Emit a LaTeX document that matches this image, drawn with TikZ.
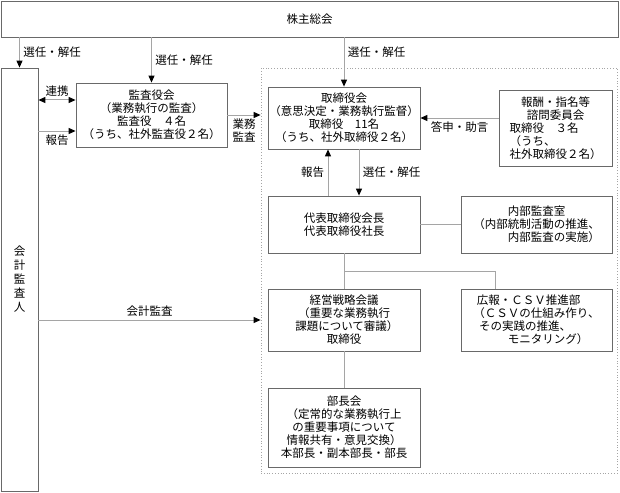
\documentclass[tikz,border=0pt]{standalone}
\usepackage{fontspec}
\setmainfont{Noto Sans CJK JP}
\usetikzlibrary{arrows.meta}
\definecolor{boxgray}{RGB}{105,105,105}
\definecolor{linegray}{RGB}{165,165,165}

\begin{document}
\begin{tikzpicture}[x=1pt,y=-1pt,font=\fontsize{11.5}{13}\selectfont,
    arr/.style={draw=linegray,line width=1pt,-{Triangle[length=7pt,width=6pt,color=black]}},
    biarr/.style={draw=linegray,line width=1pt,{Triangle[length=7pt,width=6pt,color=black]}-{Triangle[length=7pt,width=6pt,color=black]}},
    link/.style={draw=linegray,line width=1pt}]

      \useasboundingbox (0,0) rectangle (620,492);

      \begin{scope}[every node/.style={draw=boxgray,line width=0.8pt,align=center,inner sep=1pt}]
        \node[minimum width=617pt,minimum height=36pt] (soukai) at (309.5,19) {株主総会};
        \node[minimum width=37pt,minimum height=423pt,font=\fontsize{11.5}{14}\selectfont] (kaikei) at (19.5,279.5) {会\\計\\監\\査\\人};
        \node[minimum width=151pt,minimum height=64pt] (kansa) at (151.5,115) {監査役会\\（業務執行の監査）\\監査役　４名\\（うち、社外監査役２名）};
        \node[draw=linegray,dotted,minimum width=356pt,minimum height=405pt] (shikkou) at (439,270.5) {};
        \node[minimum width=152pt,minimum height=62pt] (torishimari) at (344,118) {取締役会\\（意思決定・業務執行監督）\\取締役　11名\\（うち、社外取締役２名）};
        \node[minimum width=113pt,minimum height=76pt,align=left] (houshu) at (555.5,128) {\hspace*{1em}報酬・指名等\\\hspace*{1.5em}諮問委員会\\取締役　３名\\（うち、\\社外取締役２名）};
        \node[minimum width=152pt,minimum height=57pt] (daihyo) at (344,224.5) {代表取締役会長\\代表取締役社長};
        \node[minimum width=151pt,minimum height=57pt,align=left] (naibu) at (536.5,224.5) {\hspace*{3em}内部監査室\\（内部統制活動の推進、\\\hspace*{3em}内部監査の実施）};
        \node[minimum width=152pt,minimum height=62pt] (keiei) at (344,320) {経営戦略会議\\（重要な業務執行\\\hspace*{0.5em}課題について審議）\\取締役};
        \node[minimum width=151pt,minimum height=62pt,align=left] (kouhou) at (536.5,320) {\hspace*{0.3em}広報・ＣＳＶ推進部\\（ＣＳＶの仕組み作り、\\\hspace*{0.5em}その実践の推進、\\\hspace*{3em}モニタリング）};
        \node[minimum width=152pt,minimum height=79pt] (buchou) at (344,427.5) {部長会\\（定常的な業務執行上\\の重要事項について\\情報共有・意見交換）\\本部長・副本部長・部長};
      \end{scope}

      \coordinate (renkei) at ([yshift=15pt]kansa.west);
      \coordinate (houkoku) at ([yshift=-16pt]kansa.west);
      \coordinate (bunki) at (495,271);

      \draw[arr] (soukai.south -| kaikei.north) -- node[right] {選任・解任} (kaikei.north);
      \draw[arr] (soukai.south -| kansa.north) -- node[right] {選任・解任} (kansa.north);
      \draw[arr] (soukai.south -| torishimari.north) -- node[pos=0.3,right] {選任・解任} (torishimari.north);

      \draw[biarr] (kaikei.east |- renkei) -- node[above] {連携} (renkei);
      \draw[arr] (kaikei.east |- houkoku) -- node[below] {報告} (houkoku);
      \draw[arr] (kansa.east) -- node[below,align=center] {業務\\監査} (kansa.east -| shikkou.west);
      \draw[arr] (kaikei.east |- keiei.west) -- node[above] {会計監査} (shikkou.west |- keiei.west);

      \draw[arr] (houshu.west |- torishimari.east) -- node[below] {答申・助言} (torishimari.east);
      \draw[arr] ([xshift=-16pt]daihyo.north) -- node[left] {報告} ([xshift=-16pt]torishimari.south);
      \draw[arr] ([xshift=15pt]torishimari.south) -- node[right] {選任・解任} ([xshift=15pt]daihyo.north);

      \draw[link] (daihyo.east) -- (naibu.west);
      \draw[link] (daihyo.south) -- (keiei.north);
      \draw[link] (daihyo.south |- bunki) -- (bunki) -- (bunki |- kouhou.north);
      \draw[link] (keiei.south) -- (buchou.north);

    \end{tikzpicture}
\end{document}
